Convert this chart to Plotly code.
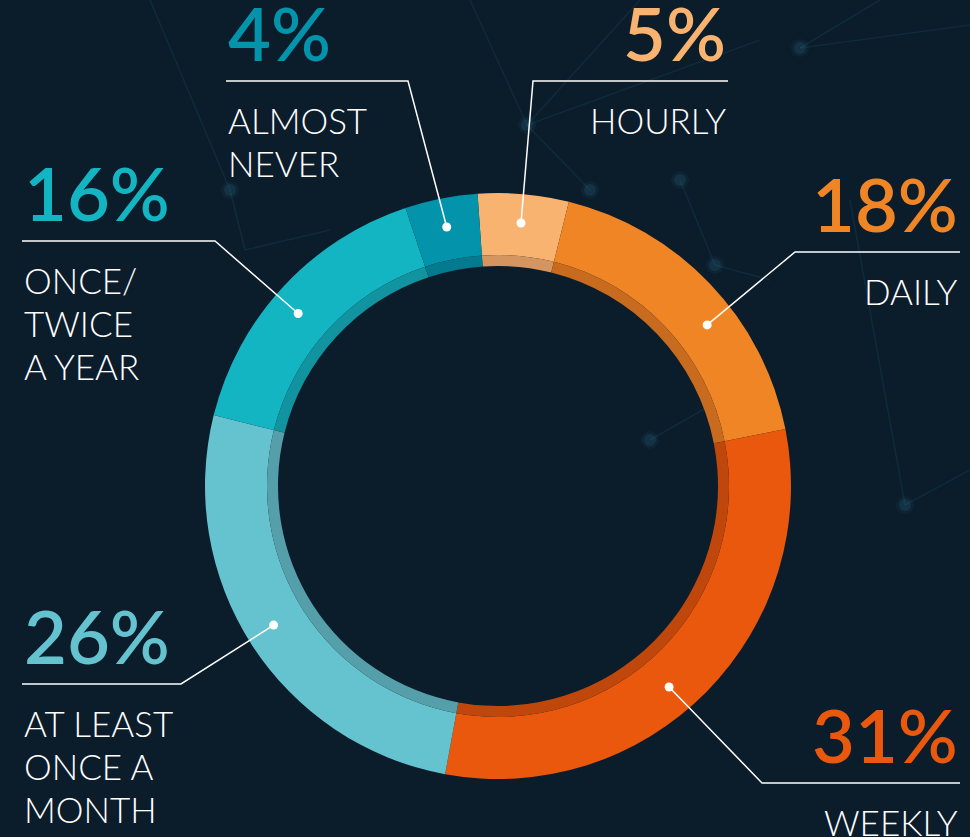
import math
import plotly.graph_objects as go

# survey answers, clockwise from the top
categories = ["HOURLY", "DAILY", "WEEKLY", "AT LEAST<br>ONCE A<br>MONTH", "ONCE/<br>TWICE<br>A YEAR", "ALMOST<br>NEVER"]
values = [5, 18, 31, 26, 16, 4]
colors = ["#F7B36F", "#F08526", "#E9580C", "#65C3D0", "#14B5C3", "#0393AA"]
shade = ["#D49561", "#C86B1E", "#C0470B", "#549FA9", "#1193A0", "#037A8D"]

W, H = 970, 837
BG = "#0b1c2b"
cx, cy = 498, 486          # ring centre (px)
r_out, r_band, r_in = 293, 231, 220
rotation = -4

# callout layout per slice: (side, line y, line start x, line end x, angle nudge)
callouts = [
    ("right", 81, 533, 728, 0),
    ("right", 252, 795, 960, 6),
    ("right", 783, 762, 960, 5),
    ("left", 684, 22, 181, 1),
    ("left", 241, 22, 215, -2),
    ("left", 81, 226, 408, 0),
]


def dom(r):
    return dict(x=[(cx - r) / W, (cx + r) / W],
                y=[(H - cy - r) / H, (H - cy + r) / H])


fig = go.Figure()
fig.add_trace(go.Pie(values=values, labels=categories, marker=dict(colors=colors, line=dict(width=0)),
                     hole=r_band / r_out, sort=False, direction="clockwise", rotation=rotation,
                     textinfo="none", hoverinfo="skip", domain=dom(r_out), showlegend=False))
fig.add_trace(go.Pie(values=values, labels=categories, marker=dict(colors=shade, line=dict(width=0)),
                     hole=r_in / r_band, sort=False, direction="clockwise", rotation=rotation,
                     textinfo="none", hoverinfo="skip", domain=dom(r_band), showlegend=False))

# faint network decoration in the background
decor = [((470, 0), (527, 125)), ((527, 125), (640, 0)), ((527, 125), (760, 40)), ((527, 125), (590, 190)),
         ((800, 48), (970, 25)), ((800, 48), (880, 0)), ((680, 180), (715, 265)), ((715, 265), (770, 280)),
         ((850, 200), (905, 505)), ((905, 505), (970, 470)), ((650, 440), (720, 400)),
         ((230, 190), (245, 250)), ((245, 250), (330, 230)), ((150, 0), (230, 190))]
for (x0, y0), (x1, y1) in decor:
    fig.add_shape(type="line", x0=x0, y0=y0, x1=x1, y1=y1, xref="x", yref="y",
                  line=dict(color="rgba(40,120,140,0.16)", width=1.5), layer="below")
for (x, y) in [(527, 125), (680, 180), (715, 265), (800, 48), (905, 505), (650, 440), (590, 190), (230, 190)]:
    for rr, op in [(9, 0.08), (6, 0.14)]:
        fig.add_shape(type="circle", x0=x - rr, x1=x + rr, y0=y - rr, y1=y + rr, xref="x", yref="y",
                      fillcolor=f"rgba(50,140,160,{op})", line=dict(width=0), layer="below")

total = sum(values)
start = rotation
r_dot = (r_band + r_out) / 2 + 2
for v, lab, col, (side, ly, x0, x1, nudge) in zip(values, categories, colors, callouts):
    mid = start + v / total * 360 / 2 + nudge
    start += v / total * 360
    a = math.radians(mid)
    dx, dy = cx + r_dot * math.sin(a), cy - r_dot * math.cos(a)
    if side == "right":
        pts = [(dx, dy), (x0, ly), (x1, ly)]
        tx, anchor = x1, "right"
    else:
        pts = [(x0, ly), (x1, ly), (dx, dy)]
        tx, anchor = x0, "left"
    path = "M " + " L ".join(f"{px:.1f},{py:.1f}" for px, py in pts)
    fig.add_shape(type="path", path=path, xref="x", yref="y", layer="above",
                  line=dict(color="white", width=1.5))
    fig.add_shape(type="circle", x0=dx - 4.5, x1=dx + 4.5, y0=dy - 4.5, y1=dy + 4.5, xref="x", yref="y",
                  fillcolor="white", line=dict(width=0), layer="above")
    fig.add_annotation(x=tx, y=ly - 49, xref="x", yref="y", text=f"{v}%", showarrow=False,
                       xanchor=anchor, yanchor="middle",
                       font=dict(family="Lato", size=74, color=col, weight=600))
    for i, line in enumerate(lab.split("<br>")):
        fig.add_annotation(x=tx, y=ly + 39 + i * 43, xref="x", yref="y", text=line, showarrow=False,
                           xanchor=anchor, yanchor="middle",
                           font=dict(family="Lato", size=35, color="white", weight=300))

fig.update_layout(width=W, height=H, margin=dict(l=0, r=0, t=0, b=0),
                  paper_bgcolor=BG, plot_bgcolor=BG,
                  xaxis=dict(range=[0, W], visible=False, fixedrange=True),
                  yaxis=dict(range=[H, 0], visible=False, fixedrange=True))
fig.write_html("out.html", config={"displayModeBar": False},
               post_script="document.body.style.margin='0';document.body.style.overflow='hidden';")
